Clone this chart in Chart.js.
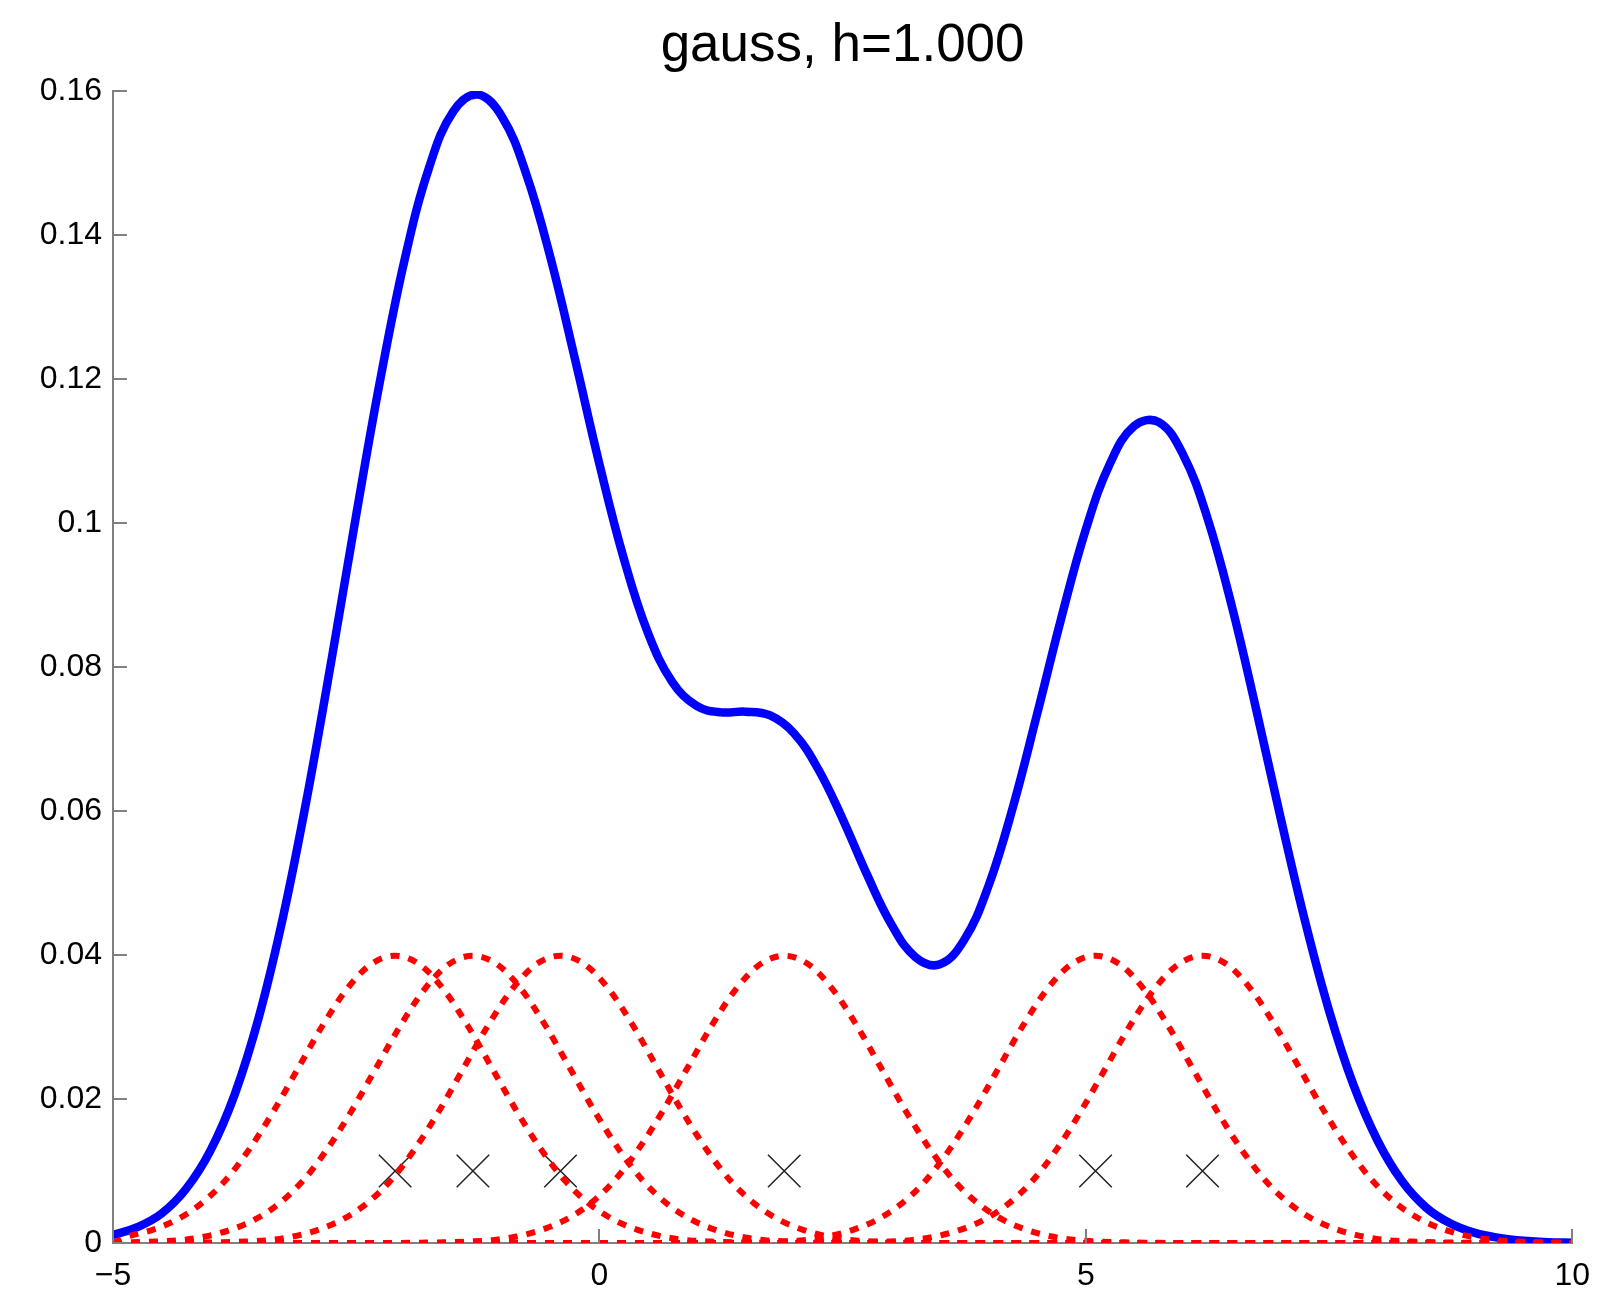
<!DOCTYPE html>
<html>
<head>
<meta charset="utf-8">
<script src="https://cdn.jsdelivr.net/npm/chart.js@4"></script>
<style>
  html, body { margin: 0; padding: 0; background: #fff; }
  #wrap { width: 1604px; height: 1293px; }
</style>
</head>
<body>
<div id="wrap"><canvas id="kde" width="1604" height="1293"></canvas></div>
<script>
// values
const titleText = 'gauss, h=1.000';

// blue curve: density estimate, sampled every 0.25
const densityX = [
  -5, -4.75, -4.5, -4.25, -4, -3.75, -3.5, -3.25, -3, -2.75, -2.5, -2.25, -2, -1.75, -1.5, -1.25,
  -1, -0.75, -0.5, -0.25, 0, 0.25, 0.5, 0.75, 1, 1.25, 1.5, 1.75, 2, 2.25, 2.5, 2.75,
  3, 3.25, 3.5, 3.75, 4, 4.25, 4.5, 4.75, 5, 5.25, 5.5, 5.75, 6, 6.25, 6.5, 6.75,
  7, 7.25, 7.5, 7.75, 8, 8.25, 8.5, 8.75, 9, 9.25, 9.5, 9.75, 10
];
const densityY = [
  0.0011, 0.0022, 0.0041, 0.0075, 0.0128, 0.0206, 0.0314, 0.0454, 0.0623, 0.0813, 0.1011, 0.1201, 0.1367, 0.1494, 0.1572, 0.1595,
  0.1564, 0.1484, 0.1367, 0.1227, 0.1082, 0.0951, 0.0847, 0.0779, 0.0746, 0.0737, 0.0738, 0.0733, 0.0708, 0.0658, 0.0589, 0.0512,
  0.0443, 0.0397, 0.0387, 0.0421, 0.0496, 0.0605, 0.0735, 0.0869, 0.0991, 0.1083, 0.1135, 0.1140, 0.1095, 0.1007, 0.0885, 0.0742,
  0.0592, 0.0449, 0.0323, 0.0220, 0.0142, 0.0086, 0.0049, 0.0027, 0.0014, 0.0007, 0.0003, 0.0001, 0.00005
];

// sample points (the crosses) and the red kernel bumps centred on them
const sampleX = [-2.1, -1.3, -0.4, 1.9, 5.1, 6.2];
const sampleY = [0.01, 0.01, 0.01, 0.01, 0.01, 0.01];

// shape of one red bump: offset from its centre -> height
const bumpOffsets = [-4, -3.75, -3.5, -3.25, -3, -2.75, -2.5, -2.25, -2, -1.75, -1.5, -1.25, -1, -0.75, -0.5, -0.25,
  0, 0.25, 0.5, 0.75, 1, 1.25, 1.5, 1.75, 2, 2.25, 2.5, 2.75, 3, 3.25, 3.5, 3.75, 4];
const bumpHeights = [0, 0.00004, 0.0001, 0.0002, 0.0004, 0.0009, 0.0018, 0.0032, 0.0054, 0.0086, 0.0130, 0.0183, 0.0242, 0.0301, 0.0352, 0.0387,
  0.0399, 0.0387, 0.0352, 0.0301, 0.0242, 0.0183, 0.0130, 0.0086, 0.0054, 0.0032, 0.0018, 0.0009, 0.0004, 0.0002, 0.0001, 0.00004, 0];

const xTicks = [-5, 0, 5, 10];
const xTickLabels = ['\u22125', '0', '5', '10'];
const yTicks = [0, 0.02, 0.04, 0.06, 0.08, 0.1, 0.12, 0.14, 0.16];
const yTickLabels = ['0', '0.02', '0.04', '0.06', '0.08', '0.1', '0.12', '0.14', '0.16'];

const AXIS = '#808080';
const FONT = '"Liberation Sans", Arial, sans-serif';
const X_MIN = xTicks[0], X_MAX = xTicks[xTicks.length - 1];

const datasets = [];
sampleX.forEach(c => {
  // every red curve runs across the whole x range, like the reference
  const pts = [{ x: X_MIN, y: 0 }];
  bumpOffsets.forEach((o, i) => {
    const x = c + o;
    if (x > X_MIN && x < X_MAX) pts.push({ x: x, y: bumpHeights[i] });
  });
  pts.push({ x: X_MAX, y: 0 });
  datasets.push({
    data: pts,
    borderColor: '#ff0000',
    borderWidth: 6,
    borderDash: [9, 9],
    pointRadius: 0,
    cubicInterpolationMode: 'monotone',
    order: 0
  });
});
datasets.push({
  data: sampleX.map((x, i) => ({ x: x, y: sampleY[i] })),
  showLine: false,
  pointStyle: 'crossRot',
  pointRadius: 23,
  pointBorderWidth: 1.5,
  pointBorderColor: '#222',
  borderColor: '#222',
  order: 1
});
datasets.push({
  data: densityX.map((x, i) => ({ x: x, y: densityY[i] })),
  borderColor: '#0000ff',
  borderWidth: 8.5,
  pointRadius: 0,
  tension: 0.4,
  order: 2
});

// MATLAB-style ticks pointing into the plot, and the title centred over the axes
const matlabAxes = {
  id: 'matlabAxes',
  afterDraw(chart) {
    const { ctx, chartArea, scales } = chart;
    ctx.save();
    ctx.strokeStyle = AXIS;
    ctx.lineWidth = 2;
    ctx.beginPath();
    yTicks.forEach(v => {
      const y = Math.round(scales.y.getPixelForValue(v));
      ctx.moveTo(chartArea.left, y);
      ctx.lineTo(chartArea.left + 14, y);
    });
    xTicks.forEach(v => {
      const x = Math.round(scales.x.getPixelForValue(v));
      ctx.moveTo(x, chartArea.bottom);
      ctx.lineTo(x, chartArea.bottom - 14);
    });
    ctx.stroke();

    ctx.fillStyle = '#000';
    ctx.font = '53px ' + FONT;
    ctx.textAlign = 'center';
    ctx.textBaseline = 'alphabetic';
    ctx.fillText(titleText, (chartArea.left + chartArea.right) / 2, 61);
    ctx.restore();
  }
};

Chart.defaults.font.family = FONT;
Chart.defaults.color = '#000';

new Chart(document.getElementById('kde'), {
  type: 'line',
  data: { datasets },
  options: {
    responsive: false,
    animation: false,
    events: [],
    layout: { padding: { left: 0, right: 31, top: 91, bottom: 0 } },
    plugins: {
      legend: { display: false },
      tooltip: { enabled: false },
      title: { display: false }
    },
    scales: {
      x: {
        type: 'linear',
        min: X_MIN,
        max: X_MAX,
        grid: { display: false, drawTicks: false },
        border: { display: true, color: AXIS, width: 2 },
        afterBuildTicks: s => { s.ticks = xTicks.map(v => ({ value: v })); },
        afterFit: s => { s.height = 50; },
        ticks: {
          font: { size: 32 },
          padding: 14,
          maxRotation: 0,
          callback: v => xTickLabels[xTicks.indexOf(v)]
        }
      },
      y: {
        type: 'linear',
        min: 0,
        max: 0.16,
        grid: { display: false, drawTicks: false },
        border: { display: true, color: AXIS, width: 2 },
        afterBuildTicks: s => { s.ticks = yTicks.map(v => ({ value: v })); },
        afterFit: s => { s.width = 113; },
        ticks: {
          font: { size: 32 },
          padding: 11,
          callback: v => yTickLabels[yTicks.findIndex(t => Math.abs(t - v) < 1e-9)]
        }
      }
    }
  },
  plugins: [matlabAxes]
});
</script>
</body>
</html>
